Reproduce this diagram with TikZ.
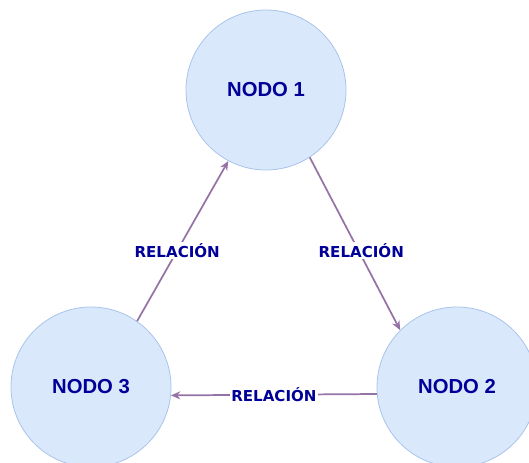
\documentclass[tikz,border=0pt]{standalone}
\usepackage{fontspec}
\setmainfont{Liberation Sans}
\newfontfamily\labelfont{DejaVu Sans}
\usetikzlibrary{arrows.meta}
\definecolor{nodefill}{HTML}{DAE8FC}
\definecolor{nodeline}{HTML}{A9C4EB}
\definecolor{relline}{HTML}{9673A6}
\definecolor{navy}{RGB}{0,0,153}
\tikzset{
  entity/.style={circle, draw=nodeline, fill=nodefill, line width=0.6pt,
    minimum size=120pt, inner sep=0pt, text=navy,
    font=\fontsize{15.2pt}{18pt}\selectfont\bfseries},
  relation/.style={draw=relline, line width=1.3pt,
    -{Stealth[length=7pt,width=6pt]}},
  rellabel/.style={fill=white, inner sep=1pt, text=navy,
    font=\labelfont\fontsize{11.3pt}{13pt}\selectfont\bfseries}
}
\begin{document}
\begin{tikzpicture}[x=0.75pt, y=-0.75pt]
  \useasboundingbox (0,0) rectangle (529,463);
  \clip (0,0) rectangle (529,463);

  % the three entities
  \node[entity] (n1) at (266,90) {NODO 1};
  \node[entity] (n2) at (457,387) {NODO 2};
  \node[entity] (n3) at (91,387) {NODO 3};

  % relations between them
  \draw[relation] (n1.303) -- node[rellabel, pos=0.54, xshift=2pt] {RELACIÓN} (n2.135);
  \draw[relation] (n2.185) -- node[rellabel, pos=0.5] {RELACIÓN} (n3.354);
  \draw[relation] (n3.55) -- node[rellabel, pos=0.44] {RELACIÓN} (n1.242);
\end{tikzpicture}
\end{document}
